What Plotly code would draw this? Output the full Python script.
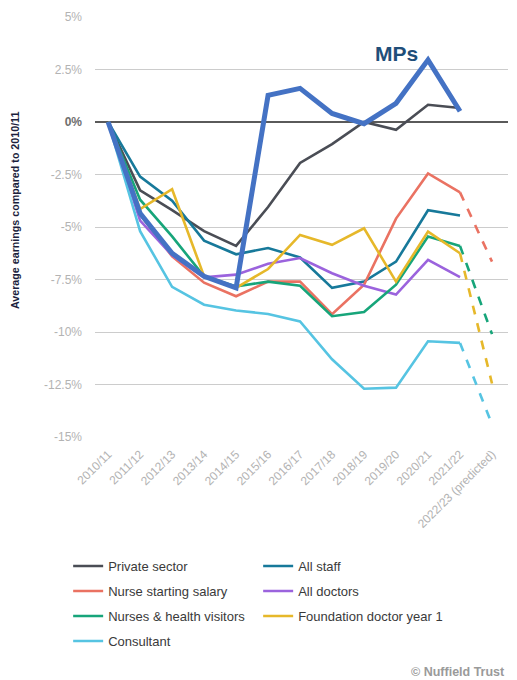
import plotly.graph_objects as go

years = ["2010/11", "2011/12", "2012/13", "2013/14", "2014/15", "2015/16", "2016/17",
         "2017/18", "2018/19", "2019/20", "2020/21", "2021/22", "2022/23 (predicted)"]

private_sector = [0, -3.25, -4.2, -5.2, -5.9, -4.05, -1.95, -1.05, 0.0, -0.37, 0.82, 0.67]
all_staff = [0, -2.6, -3.75, -5.65, -6.3, -6.0, -6.45, -7.9, -7.6, -6.65, -4.2, -4.45]
nurse_starting = [0, -4.4, -6.4, -7.65, -8.3, -7.6, -7.6, -9.15, -7.75, -4.6, -2.45, -3.35]
all_doctors = [0, -4.7, -6.35, -7.4, -7.27, -6.75, -6.48, -7.2, -7.8, -8.22, -6.56, -7.39]
nurses_hv = [0, -3.7, -5.45, -7.35, -7.83, -7.6, -7.8, -9.25, -9.05, -7.75, -5.45, -5.9]
foundation_y1 = [0, -4.15, -3.2, -7.35, -7.9, -7.0, -5.38, -5.85, -5.06, -7.6, -5.22, -6.25]
consultant = [0, -5.2, -7.85, -8.7, -8.98, -9.14, -9.5, -11.3, -12.7, -12.65, -10.44, -10.52]
mps = [0, -4.35, -6.25, -7.35, -7.9, 1.27, 1.6, 0.41, -0.08, 0.89, 2.96, 0.51]

predicted_2022 = {
    "Nurse starting salary": -6.65,
    "Nurses & health visitors": -10.1,
    "Foundation doctor year 1": -12.45,
    "Consultant": -14.4,
}

series = [
    ("Private sector", private_sector, "#4a4d55", "legend"),
    ("All staff", all_staff, "#17799a", "legend"),
    ("Nurse starting salary", nurse_starting, "#ea7262", "legend2"),
    ("All doctors", all_doctors, "#9b63dd", "legend2"),
    ("Nurses & health visitors", nurses_hv, "#17a57a", "legend3"),
    ("Foundation doctor year 1", foundation_y1, "#e6b82a", "legend3"),
    ("Consultant", consultant, "#56c4e2", "legend4"),
]

y_ticks = [5, 2.5, 0, -2.5, -5, -7.5, -10, -12.5, -15]
y_ticktext = ["5%", "2.5%", "<b><span style='color:#6e6e6e'>0%</span></b>", "-2.5%", "-5%",
              "-7.5%", "-10%", "-12.5%", "-15%"]

fig = go.Figure()

for name, vals, color, leg in series:
    fig.add_trace(go.Scatter(
        x=years[:len(vals)], y=vals, name=name, mode="lines",
        line=dict(color=color, width=2.6), legend=leg, hoverinfo="skip"))
    if name in predicted_2022:
        fig.add_trace(go.Scatter(
            x=[years[len(vals) - 1], years[-1]], y=[vals[-1], predicted_2022[name]],
            mode="lines", line=dict(color=color, width=2.6, dash="dash"),
            showlegend=False, hoverinfo="skip"))

fig.add_trace(go.Scatter(
    x=years[:len(mps)], y=mps, name="MPs", mode="lines",
    line=dict(color="#4472c4", width=5), showlegend=False, hoverinfo="skip"))

leg_common = dict(orientation="h", x=-0.065, xanchor="left", yanchor="middle",
                  entrywidth=145, entrywidthmode="pixels",
                  font=dict(family="Liberation Sans, Arial, sans-serif", size=13, color="#3a3a3a"),
                  bgcolor="rgba(0,0,0,0)")
row_px = [566, 591, 616, 641]
plot_top, plot_bottom = 17, 437
ph = plot_bottom - plot_top

def py(px):
    return (plot_bottom - px) / ph

fig.update_layout(
    width=517, height=680,
    margin=dict(l=95, r=9, t=17, b=243),
    paper_bgcolor="white", plot_bgcolor="white",
    font=dict(family="Liberation Sans, Arial, sans-serif"),
    legend=dict(**leg_common, y=py(row_px[0])),
    legend2=dict(**leg_common, y=py(row_px[1])),
    legend3=dict(**leg_common, y=py(row_px[2])),
    legend4=dict(**leg_common, y=py(row_px[3])),
    xaxis=dict(
        type="category", categoryorder="array", categoryarray=years,
        range=[-0.41, 12.5], showgrid=False, zeroline=False, showline=False,
        tickangle=-45, ticks="", ticklabelstandoff=7,
        tickfont=dict(size=12, color="#b3b3b3"),
    ),
    yaxis=dict(
        range=[-15, 5], tickvals=y_ticks, ticktext=y_ticktext,
        showgrid=True, gridcolor="#cccccc", gridwidth=1,
        zeroline=True, zerolinecolor="#5a5a5a", zerolinewidth=1.6,
        showline=False, ticks="", ticklabelstandoff=12,
        tickfont=dict(size=12, color="#b3b3b3"),
    ),
    showlegend=True,
)

fig.add_annotation(
    text="<b>Average earnings compared to 2010/11</b>", textangle=-90,
    xref="paper", yref="paper", x=(15 - 95) / 413, y=py(211),
    xanchor="center", yanchor="middle", showarrow=False,
    font=dict(size=10.7, color="#1c1f3d"))

fig.add_annotation(
    text="<b>MPs</b>", x="2019/20", y=3.25, xref="x", yref="y",
    xanchor="center", yanchor="middle", showarrow=False,
    font=dict(size=21, color="#1f4e79"))

fig.add_annotation(
    text="<b>© Nuffield Trust</b>", xref="paper", yref="paper",
    x=(507 - 95) / 413, y=py(672), xanchor="right", yanchor="middle",
    showarrow=False, font=dict(size=12.5, color="#9a9a9a"))

fig.write_html("out.html", config={"displayModeBar": False},
               post_script="document.body.style.margin='0px';")
